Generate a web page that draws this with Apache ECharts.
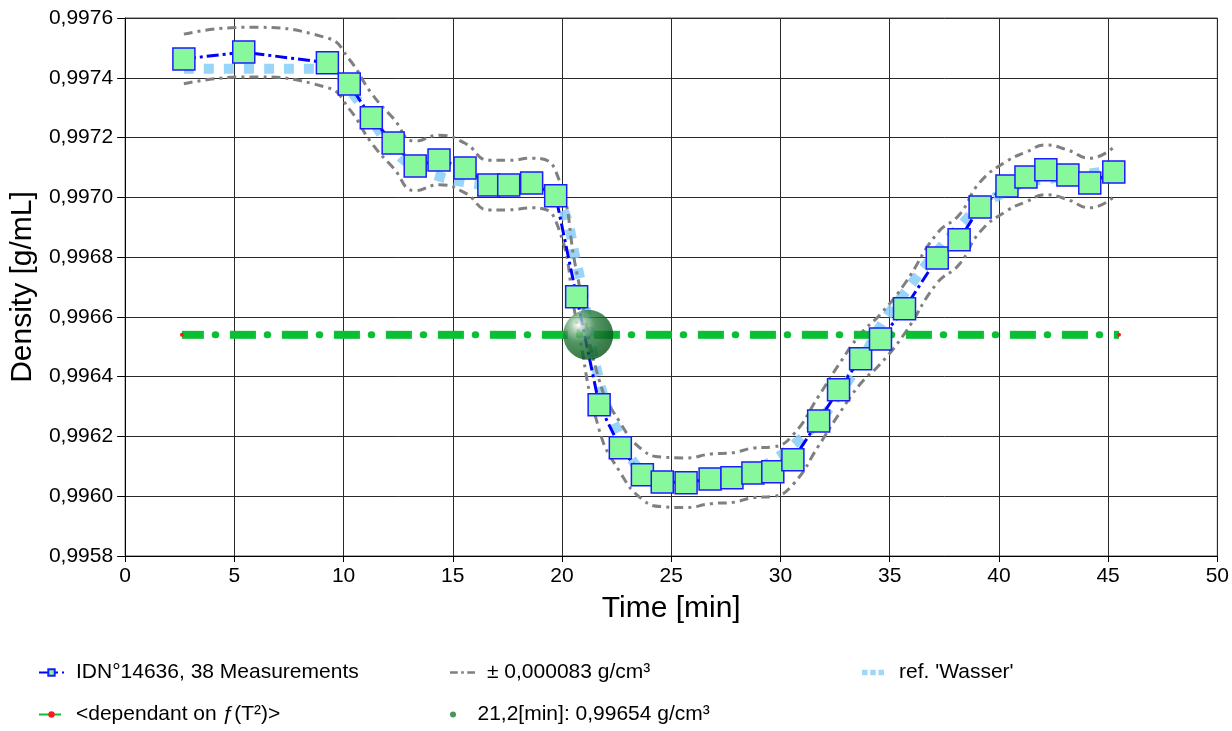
<!DOCTYPE html>
<html>
<head>
<meta charset="utf-8">
<script src="https://cdn.jsdelivr.net/npm/echarts@6/dist/echarts.min.js"></script>
<style>
  html, body { margin: 0; padding: 0; background: #fff; }
  #chart { width: 1232px; height: 731px; }
</style>
</head>
<body>
<div id="chart"></div>
<script>
// measurement times [min]
var times = [2.69, 5.43, 9.26, 10.26, 11.27, 12.27, 13.28, 14.37, 15.56, 16.65, 17.56, 18.61, 19.71,
  20.67, 21.70, 22.67, 23.68, 24.59, 25.68, 26.78, 27.78, 28.74, 29.65, 30.57, 31.75,
  32.66, 33.67, 34.58, 35.68, 37.18, 38.18, 39.14, 40.37, 41.24, 42.15, 43.16, 44.16, 45.26];
// measured density [g/mL]
var density = [0.997463, 0.997486, 0.997450, 0.997379, 0.997266, 0.997182, 0.997105, 0.997125, 0.997098, 0.997041, 0.997041, 0.997048, 0.997005,
  0.996667, 0.996306, 0.996162, 0.996072, 0.996048, 0.996045, 0.996058, 0.996062, 0.996078, 0.996082, 0.996122, 0.996252,
  0.996356, 0.996460, 0.996526, 0.996627, 0.996797, 0.996858, 0.996968, 0.997038, 0.997068, 0.997092, 0.997075, 0.997048, 0.997085];
// reference curve 'Wasser'
var refDensity = [0.99743, 0.99743, 0.99743, 0.99736, 0.99726, 0.99716, 0.99710, 0.99707, 0.99705, 0.99704, 0.99703, 0.99703, 0.99700,
  0.99678, 0.99639, 0.99620, 0.99608, 0.99605, 0.99605, 0.99606, 0.99607, 0.99609, 0.99612, 0.99617, 0.99625,
  0.99634, 0.99645, 0.99657, 0.99668, 0.99682, 0.99690, 0.99697, 0.99702, 0.99705, 0.99706, 0.99707, 0.99708, 0.99709];
var tolerance = 0.000083;
var levelRange = [2.6, 45.5];
var levelValue = 0.99654;
var pointTime = 21.2;

var nameData = 'IDN°14636, 38 Measurements';
var nameBand = '± 0,000083 g/cm³';
var nameRef = "ref. 'Wasser'";
var nameLevel = '<dependant on ƒ(T²)>';
var namePoint = '21,2[min]: 0,99654 g/cm³';

var font = 'Liberation Sans, Arial, sans-serif';

var measured = times.map(function (t, i) { return [t, density[i]]; });
var refLine = times.map(function (t, i) { return [t, refDensity[i]]; });
var upper = times.map(function (t, i) { return [t, density[i] + tolerance]; });
var lower = times.map(function (t, i) { return [t, density[i] - tolerance]; });
var level = levelRange.map(function (t) { return [t, levelValue]; });

var chart = echarts.init(document.getElementById('chart'));

function legendAt(name, left, top, extra) {
  var l = {
    data: [name],
    left: left,
    top: top,
    itemWidth: 25,
    itemHeight: 8,
    textStyle: { fontFamily: font, fontSize: 21, color: '#000', padding: [0, 0, 0, 7] },
    selectedMode: false
  };
  return Object.assign(l, extra || {});
}

var option = {
  animation: false,
  backgroundColor: '#fff',
  grid: {
    left: 122, right: 14, top: 18, bottom: 175,
    show: true, borderColor: '#555', borderWidth: 1
  },
  legend: [
    legendAt(nameData, 33, 657),
    legendAt(nameBand, 445, 657, {
      data: [{ name: nameBand, icon: 'path://M0,0H9V3H0Z M13,0H16V3H13Z M20,0H29V3H20Z', itemStyle: { color: '#808080' } }],
      itemHeight: 3
    }),
    legendAt(nameRef, 857, 657, {
      data: [{ name: nameRef, icon: 'path://M0,0H6V6H0Z M9,0H15V6H9Z M18,0H24V6H18Z', itemStyle: { color: '#9fd9f7' } }],
      itemWidth: 22, itemHeight: 6,
      textStyle: { fontFamily: font, fontSize: 21, color: '#000', padding: [0, 0, 0, 10] }
    }),
    legendAt(nameLevel, 33, 699),
    legendAt(namePoint, 445, 699, {
      data: [{ name: namePoint, itemStyle: { color: '#1b7a30' } }],
      itemHeight: 6
    })
  ],
  xAxis: {
    type: 'value',
    min: 0, max: 50, interval: 5,
    name: 'Time [min]',
    nameLocation: 'middle',
    nameGap: 38,
    nameTextStyle: { fontFamily: font, fontSize: 30, color: '#000' },
    axisLine: { onZero: false, lineStyle: { color: '#000', width: 1 } },
    axisTick: { show: true, length: 6, lineStyle: { color: '#000' } },
    axisLabel: { fontFamily: font, fontSize: 21, color: '#000', margin: 10 },
    splitLine: { show: true, lineStyle: { color: '#2a2a2a', width: 1 } }
  },
  yAxis: {
    type: 'value',
    min: 0.9958, max: 0.9976, interval: 0.0002,
    name: 'Density [g/mL]',
    nameLocation: 'middle',
    nameGap: 82,
    nameTextStyle: { fontFamily: font, fontSize: 30, color: '#000' },
    axisLine: { show: true, lineStyle: { color: '#000', width: 1 } },
    axisTick: { show: true, length: 8, lineStyle: { color: '#000' } },
    axisLabel: {
      fontFamily: font, fontSize: 21, color: '#000', margin: 12,
      formatter: function (v) { return v.toFixed(4).replace('.', ','); }
    },
    splitLine: { show: true, lineStyle: { color: '#2a2a2a', width: 1 } }
  },
  series: [
    {
      name: nameRef,
      type: 'line',
      data: refLine,
      smooth: true,
      symbol: 'none',
      z: 1,
      lineStyle: { color: 'rgba(135,206,250,0.85)', width: 10, type: [10, 10], cap: 'butt' },
      itemStyle: { color: '#9fd9f7' }
    },
    {
      name: nameBand,
      type: 'line',
      data: upper,
      smooth: 0.5,
      symbol: 'none',
      z: 2,
      lineStyle: { color: '#808080', width: 3, type: [9, 5, 3, 5] },
      itemStyle: { color: '#808080' }
    },
    {
      name: nameBand,
      type: 'line',
      data: lower,
      smooth: 0.5,
      symbol: 'none',
      z: 2,
      lineStyle: { color: '#808080', width: 3, type: [9, 5, 3, 5] },
      itemStyle: { color: '#808080' }
    },
    {
      name: nameLevel,
      type: 'line',
      data: level,
      showSymbol: true,
      symbol: 'circle',
      symbolSize: 4,
      z: 3,
      itemStyle: { color: '#ff1a1a' },
      lineStyle: { color: '#0bbf34', width: 8, type: [26, 26], dashOffset: 4, cap: 'butt' }
    },
    {
      name: nameLevel,
      type: 'line',
      data: level,
      symbol: 'none',
      z: 3,
      lineStyle: { color: '#0bbf34', width: 7, type: [0.5, 51.5], dashOffset: 18.7, cap: 'round' }
    },
    {
      name: nameData,
      type: 'line',
      data: measured,
      symbol: 'rect',
      symbolSize: 22,
      z: 4,
      lineStyle: { color: '#0000ff', width: 3, type: [12, 4, 3, 4] },
      itemStyle: { color: '#88f89c', borderColor: '#1c1cff', borderWidth: 1.5 }
    },
    {
      name: namePoint,
      type: 'scatter',
      data: [[pointTime, levelValue]],
      symbolSize: 50,
      z: 5,
      itemStyle: {
        color: {
          type: 'radial', x: 0.3, y: 0.3, r: 0.75,
          colorStops: [
            { offset: 0, color: '#ffffff' },
            { offset: 0.2, color: '#8fbf98' },
            { offset: 0.45, color: '#2a7d3f' },
            { offset: 0.8, color: '#0d6322' },
            { offset: 1, color: '#075219' }
          ]
        }
      }
    }
  ]
};

chart.setOption(option);
</script>
</body>
</html>
